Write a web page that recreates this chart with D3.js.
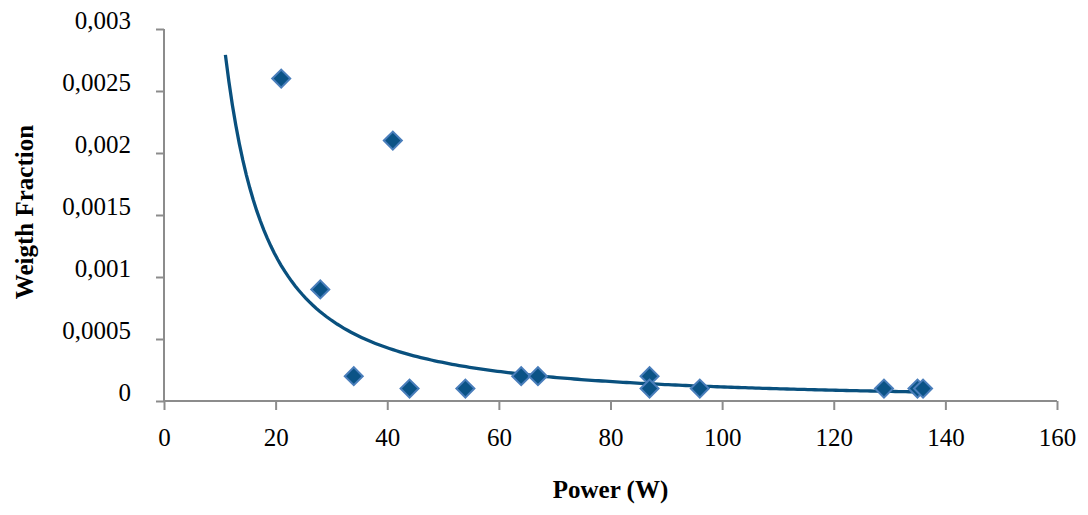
<!DOCTYPE html>
<html>
<head>
<meta charset="utf-8">
<script src="https://cdn.jsdelivr.net/npm/d3@7"></script>
<style>
  body { margin: 0; background: #fff; }
  svg { display: block; font-family: "Liberation Serif", "Times New Roman", serif; }
</style>
</head>
<body>
<svg id="chart" width="1088" height="515"></svg>
<script>
// measured points (power in W, weight fraction)
const power = [21, 41, 28, 34, 44, 54, 64, 67, 87, 87, 96, 129, 135, 136];
const weightFraction = [0.0026, 0.0021, 0.0009, 0.0002, 0.0001, 0.0001, 0.0002, 0.0002,
                        0.0002, 0.0001, 0.0001, 0.0001, 0.0001, 0.0001];
const xTicks = [0, 20, 40, 60, 80, 100, 120, 140, 160];
const yTicks = [0, 0.0005, 0.001, 0.0015, 0.002, 0.0025, 0.003];
const yTickLabels = ["0", "0,0005", "0,001", "0,0015", "0,002", "0,0025", "0,003"];
const trendBackward = 10; // trendline forecast backward

const svg = d3.select("#chart");
const margin = { top: 29, right: 31, bottom: 114, left: 164 };
const width = 1088 - margin.left - margin.right;
const height = 515 - margin.top - margin.bottom;

const x = d3.scaleLinear().domain([0, 160]).range([0, width]);
const y = d3.scaleLinear().domain([0, 0.003]).range([height, 0]);

const g = svg.append("g").attr("transform", `translate(${margin.left},${margin.top})`);

const axisColor = "#8c8c8c";

// x axis
const xAxis = g.append("g")
    .attr("transform", `translate(0,${height})`)
    .call(d3.axisBottom(x).tickValues(xTicks).tickSize(9).tickPadding(0));
xAxis.select(".domain").attr("stroke", axisColor).attr("stroke-width", 2)
    .attr("d", `M0,0H${width}`);
xAxis.selectAll(".tick line").attr("stroke", axisColor).attr("stroke-width", 2);
xAxis.selectAll(".tick text")
    .attr("y", 45).attr("dy", null)
    .attr("font-size", 25).attr("fill", "#000")
    .attr("font-family", "Liberation Serif, serif");

// y axis
const yAxis = g.append("g")
    .call(d3.axisLeft(y).tickValues(yTicks).tickFormat((d, i) => yTickLabels[i]).tickSize(8));
yAxis.select(".domain").attr("stroke", axisColor).attr("stroke-width", 2)
    .attr("d", `M0,${height}V0`);
yAxis.selectAll(".tick line").attr("stroke", axisColor).attr("stroke-width", 2);
yAxis.selectAll(".tick text")
    .attr("x", -33).attr("dy", -1)
    .attr("font-size", 25).attr("fill", "#000")
    .attr("font-family", "Liberation Serif, serif");

// power trendline y = a * x^b, least squares in log space
const lx = power.map(Math.log);
const ly = weightFraction.map(Math.log);
const mx = d3.mean(lx), my = d3.mean(ly);
const b = d3.sum(lx, (v, i) => (v - mx) * (ly[i] - my)) / d3.sum(lx, v => (v - mx) * (v - mx));
const a = Math.exp(my - b * mx);

const x0 = d3.min(power) - trendBackward;
const x1 = d3.max(power);
const trend = d3.range(0, 201).map(i => {
    const xv = x0 + (x1 - x0) * i / 200;
    return [xv, a * Math.pow(xv, b)];
});

g.append("path")
    .datum(trend)
    .attr("fill", "none")
    .attr("stroke", "#09507e")
    .attr("stroke-width", 3.3)
    .attr("d", d3.line().x(d => x(d[0])).y(d => y(d[1])));

// markers
const diamond = d3.symbol().type(d3.symbolSquare).size(162);
g.selectAll("path.pt")
    .data(power.map((p, i) => ({ p, w: weightFraction[i] })))
    .join("path")
    .attr("class", "pt")
    .attr("d", diamond)
    .attr("transform", d => `translate(${x(d.p)},${y(d.w)}) rotate(45)`)
    .attr("fill", "#0b5386")
    .attr("stroke", "#4a7ebb")
    .attr("stroke-width", 2);

// axis titles
svg.append("text")
    .attr("x", margin.left + x(80))
    .attr("y", 498)
    .attr("text-anchor", "middle")
    .attr("font-weight", "bold")
    .attr("font-size", 25)
    .text("Power (W)");

svg.append("text")
    .attr("transform", `translate(33,212) rotate(-90)`)
    .attr("text-anchor", "middle")
    .attr("font-weight", "bold")
    .attr("font-size", 25)
    .text("Weigth Fraction");
</script>
</body>
</html>
